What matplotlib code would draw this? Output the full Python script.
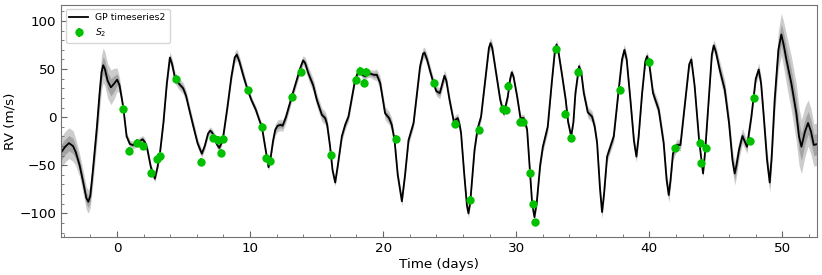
import numpy as np
import matplotlib
matplotlib.use("Agg")
import matplotlib.pyplot as plt
from matplotlib.ticker import MultipleLocator

# GP mean curve (time in days, RV in m/s) and its 1-sigma width
gp_t = [-4.2, -3.9, -3.6, -3.3, -3.1, -2.8, -2.5, -2.3, -2.15, -2.0, -1.8, -1.5, -1.3, -1.15, -1.03,
        -0.9, -0.7, -0.45, -0.2, 0.02, 0.2, 0.47, 0.73, 0.98, 1.2, 1.48, 1.7, 1.93, 2.1, 2.28,
        2.55, 2.85, 3.05, 3.23, 3.5, 3.75, 3.98, 4.15, 4.36, 4.65, 4.98, 5.2, 5.4, 5.68, 6.06,
        6.38, 6.6, 6.85, 7.01, 7.15, 7.31, 7.5, 7.69, 7.85, 7.99, 8.31, 8.6, 8.85, 9.01, 9.2,
        9.5, 9.82, 10.1, 10.44, 10.7, 10.89, 11.14, 11.39, 11.55, 11.74, 11.9, 12.07, 12.3, 12.45, 12.7,
        13.14, 13.5, 13.8, 13.99, 14.15, 14.4, 14.75, 15.02, 15.4, 15.65, 15.8, 16.02, 16.2, 16.4, 16.6,
        16.9, 17.15, 17.4, 17.65, 17.9, 18.1, 18.28, 18.45, 18.65, 18.85, 19.03, 19.3, 19.53, 19.78, 20.15,
        20.45, 20.65, 20.86, 21.1, 21.41, 21.65, 21.91, 22.29, 22.55, 22.78, 23.0, 23.11, 23.3, 23.55, 23.79,
        24.0, 24.26, 24.45, 24.61, 24.75, 24.99, 25.31, 25.5, 25.61, 25.75, 25.86, 26.1, 26.3, 26.41, 26.55,
        26.87, 27.1, 27.36, 27.74, 27.95, 28.07, 28.2, 28.49, 28.8, 29.07, 29.37, 29.55, 29.67, 29.8, 30.07,
        30.32, 30.57, 30.82, 31.0, 31.2, 31.37, 31.55, 31.8, 32.0, 32.37, 32.67, 32.9, 33.03, 33.15, 33.42,
        33.72, 33.9, 34.13, 34.3, 34.45, 34.72, 34.9, 35.08, 35.38, 35.7, 35.9, 36.08, 36.3, 36.45, 36.6,
        36.83, 37.33, 37.7, 37.95, 38.13, 38.3, 38.58, 38.85, 39.03, 39.2, 39.46, 39.7, 39.83, 40.0, 40.28,
        40.71, 41.08, 41.3, 41.46, 41.6, 41.78, 42.08, 42.34, 42.71, 43.0, 43.16, 43.41, 43.74, 44.04, 44.2,
        44.41, 44.7, 44.84, 45.0, 45.29, 45.67, 45.99, 46.25, 46.42, 46.55, 46.74, 47.0, 47.34, 47.67, 48.0,
        48.22, 48.4, 48.6, 48.85, 49.05, 49.2, 49.42, 49.7, 49.92, 50.1, 50.3, 50.67, 51.05, 51.25, 51.43,
        51.7, 51.93, 52.15, 52.36, 52.6]
gp_rv = [-37, -31, -27, -30, -36, -50, -70, -84, -88, -82, -55, -10, 25, 47, 54,
         50, 38, 31, 35, 39, 33, 11, -20, -28, -29, -27, -25, -23, -26, -33,
         -52, -64, -52, -38, -5, 35, 62, 55, 41, 35, 30, 22, 10, -6, -27,
         -38, -30, -17, -14, -16, -20, -28, -32, -27, -20, 11, 42, 62, 65, 58,
         43, 28.5, 18, 7.6, -3, -10, -31, -52, -42, -24, -13, -9, -8, -9, 0,
         21.5, 38, 52, 59, 56, 45, 33, 18, 2.4, -1, -8, -31, -55, -68, -50,
         -20, -8, 0.6, 20, 39, 46, 47.7, 44, 42.5, 45, 45.3, 44, 44, 35.5, 4,
         -1, -8, -24, -60, -87.5, -60, -24, -6, 25, 53, 66, 67, 60, 47, 35.5,
         27, 25, 35, 43, 38, 18, -4.6, -2, -1, -8, -17, -60, -92, -100, -88,
         -34, -12, 0.6, 46, 72, 77, 72, 46, 18, 3.5, 21.5, 40, 46.7, 42, 21.5,
         -1, -1, -13, -50, -90, -104, -88, -50, -31, -10, 35.5, 68, 75.6, 70, 46,
         18, -5, -20, -5, 25, 53, 45, 25, 5, 0.6, -10, -27, -75, -98.7, -80,
         -41, -20, 28.5, 60, 70, 60, 18, -25, -41, -20, 25, 58, 63.4, 55, 25,
         7.6, -27, -65, -81, -65, -37.7, -29, -29, 18, 55, 60, 32, -23.7, -58.6, -35,
         7.6, 65, 74.6, 68, 49.5, 28.5, -6, -45, -58.6, -50, -34, -19.6, -30.8, 0.6, 40,
         49.5, 35, 0.6, -45, -68, -40, 18, 70, 86, 75, 60, 35.5, 4, -20, -30.8,
         -15, -6, -15, -29, -28]
gp_sig = [8, 8, 8, 8, 7, 6, 6, 6, 6, 6, 7, 8, 9, 9, 9,
          9, 9, 9, 8, 6, 4, 2, 2, 2, 2, 2, 2, 2, 2, 2,
          2, 2, 2, 2, 2.5, 3, 3, 3, 3, 3, 3, 3, 3, 3, 2.5,
          2, 2, 2, 2, 2, 2, 2, 2, 2, 2, 2.5, 3, 3, 3, 3,
          3, 2, 2, 2, 2, 2, 2, 2, 2, 2.5, 3, 3, 3, 3, 3,
          2.5, 2.5, 2.5, 2.5, 3, 3.5, 3.5, 3.5, 3.5, 3.5, 3.5, 2.5, 2, 2, 2,
          2.5, 2.5, 2.5, 2.5, 2, 2, 2, 2, 2, 2, 2, 2.5, 3, 3.5, 3.5,
          3.5, 3.5, 2.5, 2.5, 2.5, 2.5, 2.5, 2.5, 2.5, 3, 3, 3, 3, 3, 2.5,
          2.5, 3, 3, 3, 3, 3, 2.5, 2.5, 2.5, 2.5, 2.5, 2.5, 2.5, 2.5, 2.5,
          2.5, 2.5, 2.5, 2.5, 3, 3, 3, 2.5, 2.5, 2, 2, 2, 2, 2, 2.5,
          2, 2, 2.5, 2.5, 2, 2, 2.5, 3, 3, 3, 2.5, 2.5, 2.5, 2.5, 2.5,
          2.5, 2, 2, 2, 2.5, 2.5, 2.5, 3, 3, 3, 3, 3, 3, 3.5, 3,
          3, 3, 2.5, 3, 3, 3, 3, 3, 3, 3, 2.5, 2.5, 2.5, 3, 3,
          3.5, 3.5, 4, 4, 4, 3.5, 3, 3, 2.5, 2.5, 2.5, 2, 2, 2, 2,
          2.5, 3, 3, 3.5, 4.5, 5, 5, 5.5, 6, 6, 5, 4, 3.5, 2.5, 2.5,
          3.5, 4, 4, 5, 5.5, 6, 8, 10, 11, 12, 13, 14, 15, 15, 14,
          13, 12, 12, 11, 11]

# S2 measurements
obs_t = [0.48, 0.90, 1.48, 1.93, 2.60, 3.03, 3.23, 4.43, 6.33, 7.23, 7.56, 7.79, 7.94,
         9.84, 10.89, 11.19, 11.49, 13.14, 13.82, 16.10, 17.97, 18.23, 18.53, 18.72, 20.95,
         23.86, 25.41, 26.56, 27.21, 28.99, 29.27, 29.35, 30.32, 30.50, 31.07, 31.25, 31.40,
         33.00, 33.67, 34.13, 34.68, 37.78, 39.96, 41.93, 43.79, 43.86, 44.29, 47.54, 47.87]
obs_rv = [8.4, -35, -26.5, -30, -58, -44, -40.5, 40, -46.4, -21.3, -24, -37, -23,
          27.8, -9.8, -43, -46, 21, 47, -39.4, 39, 48, 36, 47, -23,
          35.5, -7, -86, -13, 9, 7, 32.7, -5, -5.5, -58, -90.7, -109.5,
          70.4, 3.5, -22, 47.4, 28.5, 57.8, -32.5, -26.5, -47.5, -32, -24.5, 19.9]
obs_err = [4] * len(obs_t)

t = np.array(gp_t)
mu = np.array(gp_rv)
sd = np.array(gp_sig)

fig = plt.figure(figsize=(8.22, 2.75), dpi=100)
ax = fig.add_axes([0.0742, 0.137, 0.9197, 0.846])

ax.fill_between(t, mu - 2 * sd, mu + 2 * sd, color='k', alpha=0.2, lw=0)
ax.fill_between(t, mu - sd, mu + sd, color='k', alpha=0.2, lw=0)
ax.plot(t, mu, color='k', lw=1.3, label='GP timeseries2')
ax.errorbar(obs_t, obs_rv, yerr=obs_err, fmt='o', color='#00c000', ms=5,
            elinewidth=1.5, capsize=0, label='$S_2$', zorder=3)

ax.set_xlim(-4.2, 52.6)
ax.set_ylim(-125, 117)
ax.xaxis.set_major_locator(MultipleLocator(10))
ax.xaxis.set_minor_locator(MultipleLocator(2))
ax.yaxis.set_major_locator(MultipleLocator(50))
ax.yaxis.set_minor_locator(MultipleLocator(10))
ax.tick_params(which='both', direction='in', labelsize=9.7, color='0.4')
ax.tick_params(which='major', length=4)
ax.tick_params(which='minor', length=2)
for s in ax.spines.values():
    s.set_color('0.45')

ax.set_xlabel('Time (days)', fontsize=9.7, labelpad=2)
ax.set_ylabel('RV (m/s)', fontsize=9.7, labelpad=2)
ax.legend(loc='upper left', fontsize=6.7)

fig.savefig('out.png', dpi=100)
